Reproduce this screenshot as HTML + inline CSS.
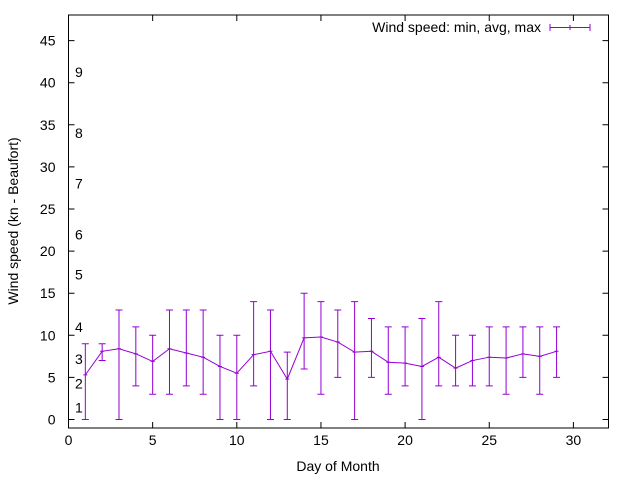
<!DOCTYPE html>
<html><head><meta charset="utf-8"><style>
body{margin:0;background:#fff}
svg text{font-family:"Liberation Sans",sans-serif;font-size:14px;fill:#000}
</style></head><body>
<svg width="640" height="480" xmlns="http://www.w3.org/2000/svg">
<rect width="640" height="480" fill="#fff"/>
<g id="axes"></g>
<g id="labels"></g>
<g id="series"></g>
<g>
<text x="541" y="32" text-anchor="end">Wind speed: min, avg, max</text>
<g stroke="#9400d3" stroke-width="1">
<line x1="550" y1="27.5" x2="590" y2="27.5"/><line x1="550" y1="24" x2="550" y2="31"/><line x1="590" y1="24" x2="590" y2="31"/><line x1="570" y1="25" x2="570" y2="30"/>
</g></g>
<text x="338" y="471" text-anchor="middle">Day of Month</text>
<text transform="translate(18,221) rotate(-90)" text-anchor="middle">Wind speed (kn - Beaufort)</text>
</svg>
<script>
const days=[1,2,3,4,5,6,7,8,9,10,11,12,13,14,15,16,17,18,19,20,21,22,23,24,25,26,27,28,29];
const minVals=[0,7,0,4,3,3,4,3,0,0,4,0,0,6,3,5,0,5,3,4,0,4,4,4,4,3,5,3,5];
const avgVals=[5.3,8.1,8.4,7.8,6.9,8.4,7.9,7.4,6.3,5.5,7.7,8.1,4.8,9.7,9.8,9.2,8.0,8.1,6.8,6.7,6.3,7.4,6.1,7.0,7.4,7.3,7.8,7.5,8.1];
const maxVals=[9,9,13,11,10,13,13,13,10,10,14,13,8,15,14,13,14,12,11,11,12,14,10,10,11,11,11,11,11];
const xTicks=[0,5,10,15,20,25,30];
const yTicks=[0,5,10,15,20,25,30,35,40,45];
const beaufortLabels=["1","2","3","4","5","6","7","8","9"];
const beaufortVals=[1.4,4.3,7.2,11,17.2,22,28,34,41.3];
const NS="http://www.w3.org/2000/svg";
const L=68.5,R=608.5,T=15,B=428;
const X=v=>L+v*16.83;
const Y=v=>419.5-v*8.42;
function mk(tag,attrs,parent,text){const e=document.createElementNS(NS,tag);for(const k in attrs)e.setAttribute(k,attrs[k]);if(text!==undefined)e.textContent=text;parent.appendChild(e);return e;}
const axes=document.getElementById('axes'),labels=document.getElementById('labels'),series=document.getElementById('series');
const frame=mk('rect',{x:L,y:T,width:R-L,height:B-T,fill:'none',stroke:'#000','stroke-width':1},axes);


xTicks.forEach(v=>{
 const t=mk('path',{d:`M${X(v)},${B}v-6M${X(v)},${T}v6`,stroke:'#000'},axes);
 
 
 const tx=mk('text',{x:X(v),y:B+17,'text-anchor':'middle'},labels,String(v));
 
 
});
yTicks.forEach(v=>{
 const t=mk('path',{d:`M${L},${Y(v)}h6M${R},${Y(v)}h-6`,stroke:'#000'},axes);
 
 
 const tx=mk('text',{x:L-13,y:Y(v)+5,'text-anchor':'end'},labels,String(v));
 
 
});
beaufortLabels.forEach((s,i)=>{
 const tx=mk('text',{x:75,y:Y(beaufortVals[i])+5},labels,s);
 
 
});
let d='';
days.forEach((day,i)=>{d+=(i?'L':'M')+X(day)+','+Y(avgVals[i]);});
const line=mk('path',{d:d,fill:'none',stroke:'#9400d3','stroke-width':1},series);


days.forEach((day,i)=>{
 const x=X(day),y1=Y(minVals[i]),y2=Y(maxVals[i]),ya=Y(avgVals[i]);
 const e=mk('path',{d:`M${x},${y1}V${y2}M${x-3.5},${y1}h7M${x-3.5},${y2}h7M${x-2},${ya}h4`,stroke:'#9400d3','stroke-width':1,fill:'none'},series);
 
 
});
</script>
</body></html>
